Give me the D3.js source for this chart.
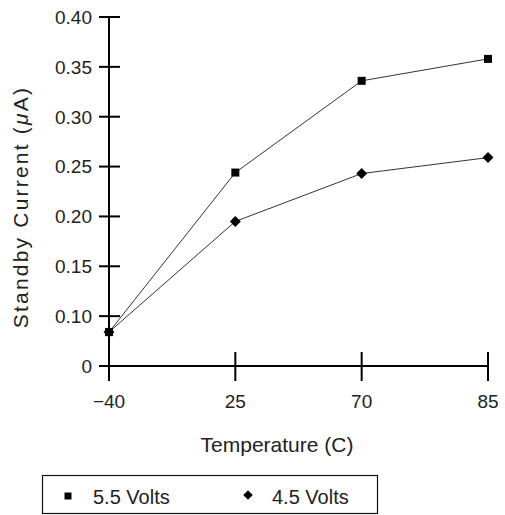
<!DOCTYPE html>
<html>
<head>
<meta charset="utf-8">
<script src="https://cdn.jsdelivr.net/npm/d3@7"></script>
<style>
  body { margin: 0; background: #fff; }
  text { font-family: "Liberation Sans", Arial, sans-serif; fill: #222; }
</style>
</head>
<body>
<div id="chart"></div>
<script>
// categories and values
var temps = ["\u221240", "25", "70", "85"];
var volts55 = [0.084, 0.244, 0.336, 0.358];
var volts45 = [0.084, 0.195, 0.243, 0.259];
var yTicks = [0.05, 0.10, 0.15, 0.20, 0.25, 0.30, 0.35, 0.40];
var yTickLabels = ["0", "0.10", "0.15", "0.20", "0.25", "0.30", "0.35", "0.40"];
var seriesNames = ["5.5 Volts", "4.5 Volts"];

var width = 505, height = 515;
var margin = {top: 17, left: 109, right: 17, bottom: 149};

var svg = d3.select("#chart").append("svg")
  .attr("width", width)
  .attr("height", height);

var x = d3.scalePoint().domain(temps).range([margin.left, width - margin.right]);
var y = d3.scaleLinear().domain([0.05, 0.40]).range([height - margin.bottom, margin.top]);

// y axis, ticks cross the line
var yAxis = svg.append("g");
yAxis.append("line")
  .attr("x1", margin.left).attr("x2", margin.left)
  .attr("y1", y(0.40)).attr("y2", y(0.05) + 15)
  .attr("stroke", "#000").attr("stroke-width", 2);
yAxis.selectAll(".ytick").data(yTicks).enter().append("line")
  .attr("x1", margin.left - 10).attr("x2", margin.left + 11)
  .attr("y1", d => y(d)).attr("y2", d => y(d))
  .attr("stroke", "#000").attr("stroke-width", 2);
yAxis.selectAll(".ylab").data(yTicks).enter().append("text")
  .attr("x", margin.left - 17)
  .attr("y", d => y(d))
  .attr("dy", "0.36em")
  .attr("text-anchor", "end")
  .style("font-size", "19px")
  .text((d, i) => yTickLabels[i]);

// x axis
var xAxis = svg.append("g");
xAxis.append("line")
  .attr("x1", margin.left).attr("x2", x(temps[temps.length - 1]))
  .attr("y1", y(0.05)).attr("y2", y(0.05))
  .attr("stroke", "#000").attr("stroke-width", 2);
xAxis.selectAll(".xtick").data(temps.slice(1)).enter().append("line")
  .attr("x1", d => x(d)).attr("x2", d => x(d))
  .attr("y1", y(0.05) - 14).attr("y2", y(0.05) + 15)
  .attr("stroke", "#000").attr("stroke-width", 2);
xAxis.selectAll(".xlab").data(temps).enter().append("text")
  .attr("x", d => x(d))
  .attr("y", y(0.05) + 42)
  .attr("text-anchor", "middle")
  .style("font-size", "19px")
  .text(d => d);

// axis titles
svg.append("text")
  .attr("x", 277).attr("y", 452)
  .attr("text-anchor", "middle")
  .style("font-size", "21px")
  .text("Temperature (C)");
var yTitle = svg.append("text")
  .attr("transform", "translate(28,207) rotate(-90)")
  .attr("text-anchor", "middle")
  .style("font-size", "21px")
  .style("letter-spacing", "2.2px");
yTitle.append("tspan").text("Standby Current (");
yTitle.append("tspan").style("font-style", "italic").text("\u03bc");
yTitle.append("tspan").text("A)");

// lines
var line = d3.line().x((d, i) => x(temps[i])).y(d => y(d));
[volts55, volts45].forEach(function(s) {
  svg.append("path").datum(s)
    .attr("d", line)
    .attr("fill", "none")
    .attr("stroke", "#333")
    .attr("stroke-width", 1);
});

// markers
var sq = d3.symbol().type(d3.symbolSquare).size(64);
var dia = d3.symbol().type(d3.symbolSquare).size(60);
svg.selectAll(".m55").data(volts55).enter().append("path")
  .attr("d", sq)
  .attr("transform", (d, i) => "translate(" + x(temps[i]) + "," + y(d) + ")")
  .attr("fill", "#000");
svg.selectAll(".m45").data(volts45).enter().append("path")
  .attr("d", dia)
  .attr("transform", (d, i) => "translate(" + x(temps[i]) + "," + y(d) + ") rotate(45)")
  .attr("fill", "#000");

// legend
var lg = svg.append("g");
lg.append("rect")
  .attr("x", 42.5).attr("y", 475.5)
  .attr("width", 335).attr("height", 38)
  .attr("fill", "none").attr("stroke", "#111").attr("stroke-width", 1.2);
lg.append("path").attr("d", d3.symbol().type(d3.symbolSquare).size(49))
  .attr("transform", "translate(68,496)").attr("fill", "#000");
lg.append("text").attr("x", 93).attr("y", 504).style("font-size", "20px").text(seriesNames[0]);
lg.append("path").attr("d", d3.symbol().type(d3.symbolSquare).size(45))
  .attr("transform", "translate(248,495) rotate(45)").attr("fill", "#000");
lg.append("text").attr("x", 272).attr("y", 504).style("font-size", "20px").text(seriesNames[1]);
</script>
</body>
</html>
